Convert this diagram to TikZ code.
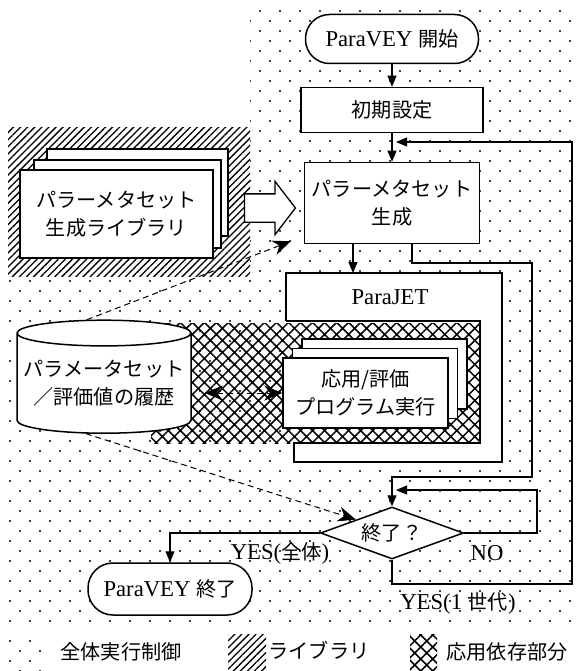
\documentclass[tikz,border=0pt]{standalone}
\usepackage{fontspec}
\setmainfont{Liberation Serif}[Scale=1.08]
\newfontfamily\jpfont{Noto Sans CJK JP}[Scale=0.96]
\usetikzlibrary{arrows.meta,shapes.geometric,shapes.arrows,patterns.meta}
\tikzdeclarepattern{
  name=ctrldots,
  type=uncolored,
  bottom left={(-2pt,-2pt)},
  top right={(18pt,18pt)},
  tile size={(20pt,20pt)},
  code={\fill (0pt,0pt) circle (1.1pt); \fill (10pt,10pt) circle (1.1pt);}
}

\begin{document}
\begin{tikzpicture}[x=1pt, y=-1pt, font=\fontsize{21}{28}\selectfont,
  procbox/.style={draw, line width=1.5pt, fill=white, inner sep=0pt, align=center},
  flowline/.style={line width=1.2pt, -{Triangle[length=11pt,width=9pt]}},
  histline/.style={line width=1pt, dash pattern=on 6pt off 4pt, -{Stealth[length=18pt,width=15pt]}},
  ctrlarea/.style={pattern=ctrldots},
  libarea/.style={pattern={Lines[angle=45, distance=5pt, line width=1.3pt]}},
  apparea/.style={pattern={Hatch[angle=45, distance=8.5pt, line width=1.5pt]}}]
  \useasboundingbox (0,0) rectangle (576,671);
  \fill[ctrlarea] (250,6) -- (576,6) -- (576,627) -- (4,627) -- (4,276) -- (250,276) -- cycle;
  \fill[libarea] (8,128) rectangle (250,276);
  \fill[white] (286,273) rectangle (502,462);
  \fill[apparea] (151,323) rectangle (480,443);
  \draw[line width=1.5pt] (286,321) |- (502,273) |- (294,462) -- (294,443) -- (480,443) |- (286,321);
  \node (jet) at (390,297) {ParaJET};
  \coordinate (jetin) at (353,273);

  \node[procbox, rounded corners=24pt, minimum width=173pt, minimum height=49pt] (start) at (392,39) {ParaVEY {\jpfont 開始}};
  \node[procbox, minimum width=182pt, minimum height=45pt] (init) at (392,110) {\jpfont 初期設定};
  \node[procbox, minimum width=175pt, minimum height=81pt, font=\fontsize{21}{28}\selectfont\jpfont] (gen) at (392,203) {パラーメタセット\\生成};
  \node[procbox, minimum width=181pt, minimum height=87pt] (lib3) at (137.5,192.5) {};
  \node[procbox, minimum width=187pt, minimum height=88pt] (lib2) at (127.5,204) {};
  \node[procbox, minimum width=193pt, minimum height=88pt, font=\fontsize{21}{28}\selectfont\jpfont] (lib) at (116.5,214) {パラーメタセット\\生成ライブラリ};
  \node[single arrow, draw, fill=white, line width=1.3pt, minimum height=51pt, single arrow head extend=12.5pt, single arrow tip angle=105, inner sep=0pt] (libarrow) at (264.5,208) {\rule{0pt}{27pt}};
  \node[procbox, minimum width=165pt, minimum height=70pt] (app3) at (384.5,374) {};
  \node[procbox, minimum width=165pt, minimum height=70pt] (app2) at (375,383.5) {};
  \node[procbox, minimum width=165pt, minimum height=70pt, font=\fontsize{21}{28}\selectfont\jpfont] (app) at (365.5,393) {応用/評価\\プログラム実行};
  \node[procbox, cylinder, shape border rotate=90, aspect=0.16, minimum width=174pt, minimum height=113pt, font=\fontsize{21}{28}\selectfont\jpfont] (hist) at (104,383.5) {パラメータセット\\／評価値の履歴};
  \node[procbox, diamond, aspect=2.75, minimum width=143pt, minimum height=52pt] (judge) at (392,533) {\jpfont 終了？};
  \node[procbox, rounded corners=25pt, minimum width=164pt, minimum height=52pt] (finish) at (170,589) {ParaVEY {\jpfont 終了}};

  \coordinate (loopin) at (396,142);
  \coordinate (noin) at (396,490);
  \draw[flowline] (start) -- (init);
  \draw[flowline] (init) -- (gen);
  \draw[flowline] (gen.south -| jetin) -- (jetin);
  \draw[flowline] ([xshift=20pt]gen.south) |- (532,263) |- (392,477) -- (judge.north);
  \draw[flowline] (judge.east) -| (537,490) -- (noin);
  \draw[flowline] (judge.south) |- (572,584) |- (loopin);
  \draw[flowline] (judge.west) -| (finish.north);
  \draw[histline] (hist.105) -- ([xshift=-13pt,yshift=3pt]gen.south west);
  \draw[histline] (hist.250) -- (judge.north west);
  \draw[histline, {Stealth[length=18pt,width=15pt]}-{Stealth[length=18pt,width=15pt]}, shorten <=13pt] (hist.east |- app.west) -- (app.west);

  \node (yesall) at (280,553) {YES({\jpfont 全体})};
  \node (no) at (487,553) {NO};
  \node (yesgen) at (458,603) {YES(1 {\jpfont 世代})};

  \fill[ctrlarea] (8,636) rectangle (46,671);
  \fill[libarea] (228,634) rectangle (266,671);
  \fill[apparea] (410,634) rectangle (437,671);
  \node (lgctrl) at (121,652) {\jpfont 全体実行制御};
  \node (lglib) at (319,650) {\jpfont ライブラリ};
  \node (lgapp) at (507,652) {\jpfont 応用依存部分};
\end{tikzpicture}
\end{document}
